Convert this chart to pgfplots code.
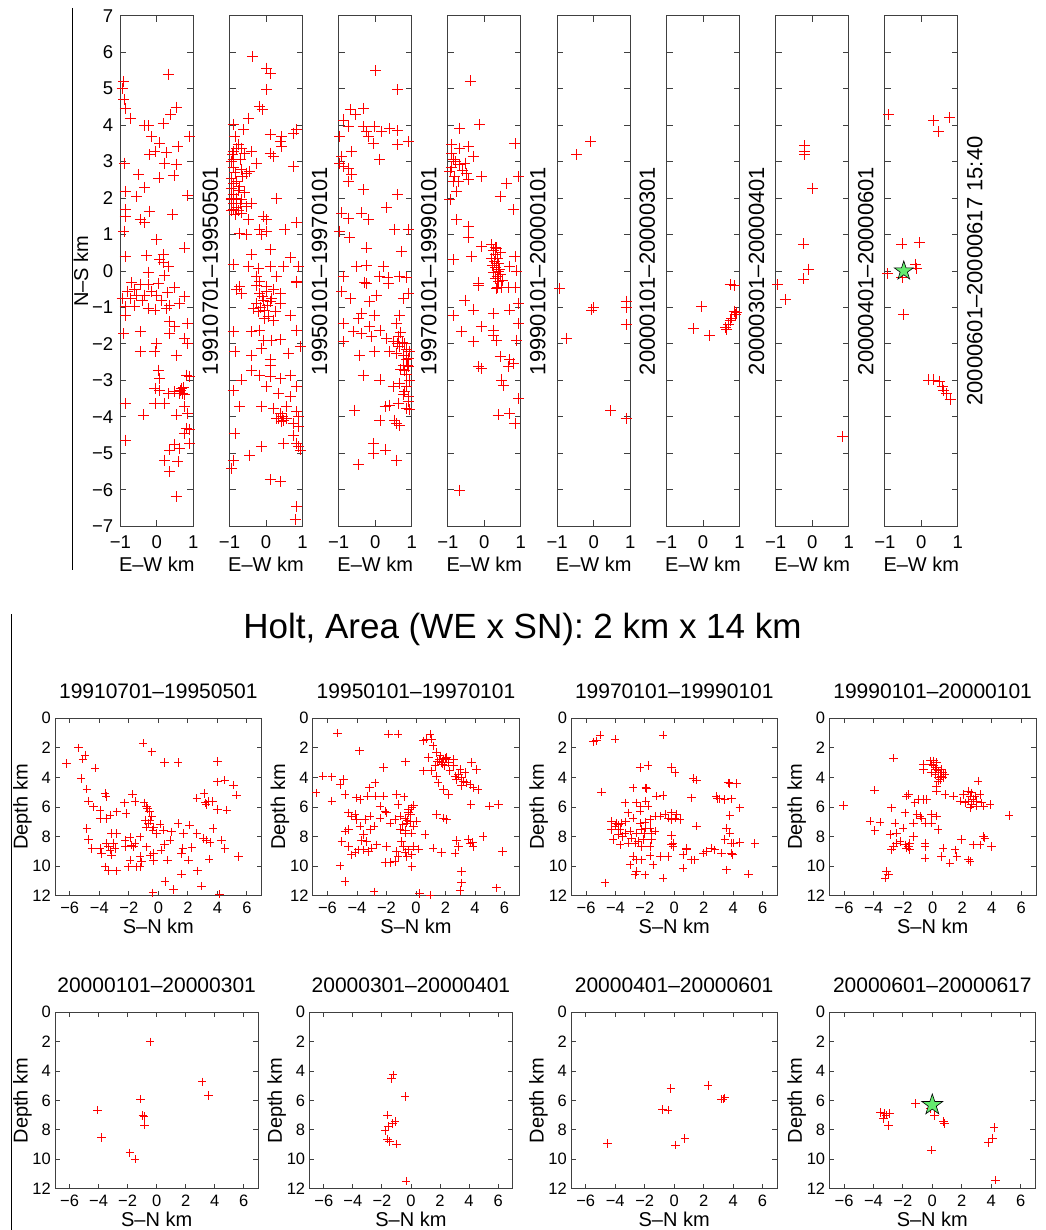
\documentclass[border=0pt]{standalone}
\usepackage{fontspec}
\setmainfont{Liberation Sans}
\usepackage{pgfplots}
\pgfplotsset{compat=1.18}
\definecolor{stargreen}{RGB}{100,235,110}
\definecolor{axgray}{RGB}{64,64,64}
\pgfdeclareplotmark{fstar}{%
  \pgfpathmoveto{\pgfpointpolar{90}{\pgfplotmarksize}}%
  \pgfpathlineto{\pgfpointpolar{126}{0.382\pgfplotmarksize}}%
  \pgfpathlineto{\pgfpointpolar{162}{\pgfplotmarksize}}%
  \pgfpathlineto{\pgfpointpolar{198}{0.382\pgfplotmarksize}}%
  \pgfpathlineto{\pgfpointpolar{234}{\pgfplotmarksize}}%
  \pgfpathlineto{\pgfpointpolar{270}{0.382\pgfplotmarksize}}%
  \pgfpathlineto{\pgfpointpolar{306}{\pgfplotmarksize}}%
  \pgfpathlineto{\pgfpointpolar{342}{0.382\pgfplotmarksize}}%
  \pgfpathlineto{\pgfpointpolar{18}{\pgfplotmarksize}}%
  \pgfpathlineto{\pgfpointpolar{54}{0.382\pgfplotmarksize}}%
  \pgfpathclose
  \pgfusepathqfillstroke}
\pgfplotsset{
 base/.style={scale only axis, anchor=south west,
   axis line style={draw=axgray, line width=0.9pt},
   major tick style={draw=axgray, line width=0.9pt},
   tick label style={inner sep=0pt, text=black}},
 topax/.style={base, width=73pt, height=510.5pt, xmin=-1, xmax=1, ymin=-7, ymax=7,
   xtick={-1,0,1}, xticklabels={−1,0,1}, ytick={-7,-6,...,7}, yticklabels={},
   major tick length=6pt,
   tick label style={font=\fontsize{18.5}{20}\selectfont},
   xticklabel style={yshift=-9pt}, yticklabel style={xshift=-7pt}},
 botax/.style={base, xmin=-7, xmax=7, ymin=0, ymax=12, y dir=reverse,
   xtick={-6,-4,...,6}, xticklabels={−6,−4,−2,0,2,4,6},
   ytick={0,2,...,12}, yticklabels={0,2,4,6,8,10,12},
   major tick length=5pt,
   tick label style={font=\fontsize{16.5}{18}\selectfont},
   xticklabel style={yshift=-6pt}, yticklabel style={xshift=-4pt}},
 eq/.style={only marks, mark=+, mark size=5.5pt, color=red, line width=0.9pt},
 eqs/.style={only marks, mark=+, mark size=4.2pt, color=red, line width=0.9pt},
 starm/.style={only marks, mark=fstar, mark options={fill=stargreen, draw=black, line width=0.6pt}},
}
\begin{document}
\color{red}%
\begin{tikzpicture}[x=1pt,y=1pt,color=red]
\useasboundingbox (0,0) rectangle (1045,-1230);
\draw[line width=1pt, draw=black] (72,-8) -- (72,-570);
\draw[line width=1pt, draw=black] (11.7,-614) -- (11.7,-1230);

% ---------------- top row: E-W vs N-S ----------------
\begin{axis}[topax, at={(120.3pt,-526.2pt)}, yticklabels={−7,−6,−5,−4,−3,−2,−1,0,1,2,3,4,5,6,7}]
\addplot[eq] coordinates {(-0.91,5.19) (-0.95,5.0) (0.31,5.40) (-0.90,4.69) (-0.87,4.46) (-0.73,4.19) (0.53,4.49) (0.38,4.28) (-0.33,3.98) (-0.24,3.98) (0.17,4.05) (0.90,3.69) (-0.14,3.69) (0.08,3.51) (-0.05,3.28) (0.26,3.25) (-0.19,3.19) (0.22,2.96) (0.58,3.41) (0.53,2.93) (-0.89,2.96) (-0.49,2.64) (0.06,2.55) (0.47,2.62) (-0.87,2.18) (-0.33,2.30) (-0.55,2.05) (0.85,2.06) (-0.87,1.68) (-0.87,1.50) (-0.21,1.64) (-0.46,1.41) (-0.33,1.32) (0.44,1.54) (-0.90,1.09) (-0.01,0.86) (0.76,0.63) (-0.87,0.40) (-0.28,0.42) (0.17,0.45) (0.08,0.31) (0.17,0.22) (0.31,0.13) (-0.24,-0.03) (0.22,-0.13)
(-0.69,-0.32) (-0.46,-0.36) (-0.24,-0.36) (0.04,-0.34) (0.49,-0.45) (-0.55,-0.66) (-0.33,-0.66) (-0.01,-0.66) (-0.73,-0.75) (-0.87,-0.98) (-0.62,-0.96) (-0.24,-1.03) (-0.05,-1.07) (0.26,-1.03) (0.35,-0.94) (0.62,-0.89) (0.76,-0.71) (-0.87,-1.21) (0.35,-1.39) (0.49,-1.53) (0.85,-1.44) (-0.91,-1.71) (-0.46,-1.67) (0.35,-1.71) (0.76,-1.85) (-0.01,-1.99) (0.85,-1.99) (-0.46,-2.22) (-0.05,-2.22) (0.53,-2.31) (0.04,-2.72) (0.08,-2.95) (0.81,-2.86) (0.90,-2.90) (-0.05,-3.22) (0.08,-3.27) (0.31,-3.36) (0.49,-3.31) (0.67,-3.22) (0.62,-3.36) (0.76,-3.40) (-0.87,-3.63) (-0.05,-3.63) (0.22,-3.63) (0.76,-3.72) (-0.37,-3.95) (0.53,-3.95) (0.85,-3.91) (-0.87,-4.64) (0.81,-4.32) (0.76,-4.46) (0.90,-4.36) (0.90,-4.73) (0.49,-4.77) (0.35,-4.91) (0.62,-4.86) (0.22,-5.19) (0.58,-5.23) (0.35,-5.51) (0.53,-6.19)
(-0.80,-0.55) (-0.60,-0.50) (-0.40,-0.80) (-0.15,-0.55) (0.12,-0.80) (0.30,-0.60) (-0.95,-0.75) (0.65,-3.28) (0.70,-3.35) (0.72,-3.20)};
\end{axis}

\begin{axis}[topax, at={(229.5pt,-526.2pt)}]
\addplot[eq] coordinates {(-0.37,5.88) (0.02,5.56) (0.11,5.42) (0.02,4.97) (-0.17,4.51) (-0.10,4.42) (-0.49,4.19) (-0.90,4.01) (-0.62,3.87) (0.11,3.73) (0.43,3.69) (0.39,3.55) (0.43,3.41) (0.75,3.78) (0.84,3.87) (-0.85,3.69) (-0.76,3.46) (-0.67,3.37) (-0.90,3.28) (-0.58,3.23) (-0.39,3.28) (0.11,3.23) (0.20,3.14) (-0.90,3.05) (-0.67,2.78) (-0.53,2.68) (-0.44,2.73) (-0.26,2.96) (-0.72,2.32) (-0.58,2.14) (-0.67,1.95) (-0.53,1.77) (-0.39,1.86) (-0.67,1.59) (-0.49,1.41) (0.29,1.98) (0.75,2.87) (-0.07,1.50) (0.02,1.41) (-0.17,1.13) (0.02,1.09) (0.52,1.13) (0.84,1.33) (-0.72,1.04) (-0.53,1.00) (-0.12,1.00) (0.11,0.59) (-0.39,0.45) (0.66,0.36) (-0.90,0.18) (-0.49,0.13) (-0.21,0.08) (0.11,0.13) (0.48,0.13) (0.89,0.13) (-0.26,-0.14) (-0.17,-0.28) (0.29,-0.14) (0.84,-0.28) (-0.72,-0.42)
(-0.95,3.0) (-0.90,2.85) (-0.85,2.7) (-0.95,2.55) (-0.88,2.4) (-0.80,2.45) (-0.95,2.25) (-0.90,2.1) (-0.82,2.0) (-0.95,1.95) (-0.88,1.85) (-0.80,1.75) (-0.95,1.65) (-0.85,1.55) (-0.75,1.65) (-0.70,1.85) (-0.75,2.2) (-0.65,2.6) (-0.92,3.2) (-0.80,3.35) (-0.70,3.05) (-0.95,2.0) (-0.90,1.7)
(-0.81,-0.52) (-0.67,-0.62) (-0.26,-0.39) (-0.17,-0.62) (0.02,-0.43) (0.20,-0.52) (0.39,-0.62) (-0.07,-0.80) (0.11,-0.84) (0.39,-0.89) (-0.35,-1.03) (-0.21,-1.12) (-0.03,-1.07) (0.06,-1.26) (0.20,-1.35) (0.66,-1.21) (0.84,-0.32) (-0.90,-1.67) (-0.39,-1.67) (-0.17,-1.62) (-0.07,-1.90) (0.16,-1.90) (0.39,-1.88) (0.84,-1.62) (-0.85,-2.22) (-0.39,-2.31) (-0.12,-2.12) (0.11,-2.44) (0.11,-2.58) (0.61,-2.26) (0.94,-2.08) (-0.39,-2.72) (-0.17,-2.86) (-0.67,-2.99) (0.11,-2.90) (0.39,-2.94) (0.66,-2.86) (0.02,-3.18) (0.84,-3.18) (-0.90,-3.27) (0.34,-3.36) (0.66,-3.45) (-0.72,-3.72) (-0.12,-3.71) (0.20,-3.77) (0.57,-3.72) (0.39,-3.91) (0.84,-3.86) (0.29,-4.04) (0.48,-4.09) (0.35,-4.05) (0.45,-4.00) (0.55,-4.05) (0.42,-4.12) (0.75,-4.18) (0.89,-4.00) (0.89,-4.27) (-0.85,-4.46) (0.75,-4.50) (0.48,-4.73) (0.84,-4.73) (0.89,-4.82) (0.94,-4.91) (-0.12,-4.82) (-0.44,-5.05) (-0.90,-5.19) (-0.94,-5.42) (0.11,-5.73) (0.39,-5.78) (0.84,-6.46) (0.80,-6.82)
(-0.10,-0.70) (0.05,-0.95) (-0.25,-0.90) (0.15,-0.75) (0.25,-1.10) (-0.05,-1.30) (-0.15,-1.00) (0.00,-0.55)};
\end{axis}

\begin{axis}[topax, at={(338.7pt,-526.2pt)}]
\addplot[eq] coordinates {(0.02,5.49) (0.61,4.97) (-0.31,4.46) (-0.69,4.42) (-0.55,4.28) (-0.87,4.14) (-0.74,3.96) (-0.33,3.96) (-0.23,3.82) (-0.19,3.69) (-0.01,3.96) (0.17,3.82) (0.40,3.91) (0.62,3.84) (0.90,3.55) (0.62,3.46) (-0.06,3.50) (-0.97,3.69) (-0.92,3.14) (-0.65,3.28) (-0.97,2.96) (-0.88,2.87) (-0.74,2.82) (-0.65,2.64) (-0.74,2.46) (0.12,3.07) (-0.33,2.23) (0.62,2.09) (0.31,1.73) (-0.92,1.59) (-0.74,1.45) (-0.38,1.59) (-0.19,1.41) (-0.97,1.09) (-0.70,0.91) (0.54,1.15) (0.90,1.13) (-0.24,0.63) (0.72,0.54) (-0.51,0.13) (-0.24,0.15) (0.22,0.13) (-0.87,-0.14) (-0.29,-0.31) (0.12,-0.14) (0.35,-0.19) (0.67,-0.14) (0.85,-0.19)
(-0.92,-0.57) (-0.69,-0.75) (-0.24,-0.34) (0.04,-0.66) (0.36,-0.34) (0.77,-0.75) (0.90,-0.62) (-0.15,-0.84) (-0.37,-1.16) (-0.46,-1.30) (-0.01,-1.21) (0.67,-1.21) (-0.88,-1.44) (-0.60,-1.67) (-0.37,-1.71) (-0.15,-1.53) (0.13,-1.62) (-0.10,-1.80) (0.31,-1.85) (0.49,-1.94) (0.63,-1.80) (0.58,-1.44) (-0.88,-1.94) (-0.42,-2.31) (-0.01,-2.22) (0.40,-2.22) (0.58,-2.26) (0.67,-2.08) (0.77,-2.31) (0.86,-2.44) (0.77,-2.58) (0.90,-2.63) (0.81,-2.72) (-0.33,-2.86) (0.13,-2.99) (0.49,-3.18) (0.67,-3.08) (0.86,-3.18) (0.77,-3.40) (0.90,-3.59) (0.27,-3.72) (0.40,-3.68) (0.63,-3.63) (0.86,-3.77) (-0.56,-3.82) (0.13,-4.09) (0.54,-4.09) (0.67,-4.23) (0.58,-4.18) (-0.05,-4.73) (-0.05,-5.00) (0.29,-4.91) (0.58,-5.19) (-0.47,-5.32)
(0.80,-2.0) (0.85,-2.15) (0.75,-1.95) (0.90,-2.40) (0.70,-2.70) (0.85,-2.85) (0.95,-3.0) (0.80,-3.3) (0.92,-3.45) (0.95,-3.8) (0.70,-1.7) (0.60,-2.0) (0.88,-2.6) (0.95,-2.2)};
\end{axis}

\begin{axis}[topax, at={(447.8pt,-526.2pt)}]
\addplot[eq] coordinates {(-0.39,5.21) (-0.12,4.01) (-0.67,3.92) (0.84,3.49) (-0.89,3.46) (-0.67,3.37) (-0.44,3.41) (-0.30,3.14) (-0.89,3.23) (-0.85,3.05) (-0.67,2.91) (-0.53,2.96) (-0.94,2.73) (-0.81,2.59) (-0.71,2.46) (-0.49,2.68) (-0.44,2.50) (-0.07,2.59) (-0.76,2.18) (-0.94,1.95) (0.61,2.41) (0.43,2.05) (0.93,2.59) (0.79,1.68) (-0.76,1.41) (-0.44,1.22) (-0.44,0.91) (-0.07,0.68) (0.20,0.72) (0.34,0.63) (-0.35,0.40) (-0.85,0.31) (0.84,0.40) (0.70,0.13) (0.88,0.00) (-0.16,-0.33)
(0.25,0.55) (0.30,0.45) (0.35,0.35) (0.28,0.25) (0.40,0.20) (0.32,0.10) (0.38,0.00) (0.25,-0.05) (0.45,-0.10) (0.30,-0.20) (0.40,-0.30) (0.35,-0.45) (0.20,0.35) (0.45,0.50) (0.30,0.65) (0.42,0.05) (0.22,0.15) (0.36,-0.15) (0.50,-0.25) (-0.90,2.85) (-0.80,3.00) (-0.60,2.75) (-0.85,2.45)
(-0.16,-0.39) (0.34,-0.48) (0.48,-0.45) (0.66,-0.45) (0.84,-0.45) (-0.53,-0.80) (-0.30,-1.07) (0.25,-1.16) (0.70,-1.07) (0.93,-0.89) (-0.85,-1.21) (-0.62,-1.67) (-0.07,-1.53) (0.25,-1.62) (0.25,-1.76) (0.34,-1.90) (-0.30,-1.94) (0.93,-1.44) (0.88,-1.90) (0.43,-2.35) (0.70,-2.44) (0.66,-2.63) (0.79,-2.53) (-0.16,-2.63) (-0.07,-2.67) (0.48,-2.99) (0.52,-3.13) (0.93,-3.50) (0.38,-3.95) (0.70,-3.91) (0.84,-4.18) (-0.67,-6.01)};
\end{axis}

\begin{axis}[topax, at={(557.2pt,-526.2pt)}]
\addplot[eq] coordinates {(-0.47,3.19) (-0.08,3.54) (-0.93,-0.48) (-0.74,-1.85) (-0.06,-1.07) (-0.01,-1.01) (0.89,-0.83) (0.89,-0.99) (0.89,-1.47) (0.47,-3.83) (0.89,-4.04)};
\end{axis}

\begin{axis}[topax, at={(666.5pt,-526.2pt)}]
\addplot[eq] coordinates {(-0.04,-0.97) (-0.27,-1.58) (0.19,-1.78) (0.74,-0.38) (0.87,-0.40) (0.92,-1.14) (0.85,-1.10) (0.79,-1.29) (0.74,-1.35) (0.70,-1.47) (0.62,-1.55) (0.65,-1.60) (0.88,-1.20)};
\end{axis}

\begin{axis}[topax, at={(775.7pt,-526.2pt)}]
\addplot[eq] coordinates {(-0.21,3.44) (-0.21,3.29) (-0.21,3.19) (0.02,2.27) (-0.23,0.74) (-0.09,0.05) (-0.23,-0.22) (-0.74,-0.79) (-0.95,-0.38) (0.82,-4.55)};
\end{axis}

\begin{axis}[topax, at={(884.8pt,-526.2pt)}]
\addplot[eq] coordinates {(-0.89,4.28) (0.34,4.12) (0.47,3.82) (0.78,4.20) (-0.53,0.74) (-0.05,0.77) (-0.16,0.18) (-0.12,0.08) (-0.92,-0.07) (-0.53,-0.17) (-0.48,-1.19) (0.20,-2.99) (0.34,-2.99) (0.50,-3.02) (0.57,-3.17) (0.61,-3.27) (0.70,-3.37) (0.79,-3.53)};
\addplot[starm, mark size=10pt] coordinates {(-0.48,0.0)};
\end{axis}

\begin{scope}[every node/.style={inner sep=0pt, text=black}]
\node[rotate=90, anchor=base, font=\fontsize{20}{22}\selectfont] at (88,-271) {N–S km};
\foreach \xx/\lab in {120.3/19910701–19950501, 229.5/19950101–19970101, 338.7/19970101–19990101, 447.8/19990101–20000101, 557.2/20000101–20000301, 666.5/20000301–20000401, 775.7/20000401–20000601, 884.8/20000601–20000617 15:40}{
  \node[rotate=90, anchor=north, font=\fontsize{22}{24}\selectfont] at (\xx+82,-271) {\lab};
  \node[anchor=base, font=\fontsize{20}{22}\selectfont] at (\xx+36.5,-571) {E–W km};
}
\node[anchor=base, font=\fontsize{35}{40}\selectfont] at (522.5,-638) {Holt, Area (WE x SN): 2 km x 14 km};
\end{scope}

% ---------------- bottom rows: S-N vs depth ----------------
\begin{axis}[botax, at={(55pt,-895.7pt)}, width=206.7pt, height=177.4pt]
\addplot[eqs] coordinates {(-5.42,1.99) (-4.97,2.48) (-5.12,2.77) (-6.21,3.05) (-4.29,3.38) (-5.24,4.06) (-4.85,4.78) (-4.74,5.59) (-4.40,5.98) (-3.95,6.20) (-3.61,5.08) (-3.54,5.30) (-3.95,6.77) (-3.50,6.77) (-3.27,6.54) (-2.82,6.32) (-2.30,5.71) (-2.19,6.43) (-1.76,5.14) (-1.58,5.64) (-0.97,5.71) (-0.79,5.98) (-0.74,6.10) (-0.61,6.30) (-0.45,6.65) (-0.56,6.90) (-0.90,6.90) (-0.68,7.12) (-0.34,7.35) (-0.79,7.35) (-0.38,7.56) (-0.11,7.78) (0.11,7.15) (0.34,7.56) (0.90,7.67) (0.79,8.23) (1.35,7.11) (1.69,7.78) (2.10,7.22) (1.58,9.14) (1.65,8.80) (2.26,8.73) (2.60,7.78) (3.05,8.12) (3.27,8.23) (3.50,8.41) (2.60,5.41) (3.09,5.08) (3.16,5.71) (3.39,5.64) (3.68,5.64) (3.23,5.82) (4.00,6.16) (4.63,6.20) (3.72,7.44) (4.29,8.23) (4.51,8.80) (4.00,4.29) (4.51,4.17) (5.08,4.51) (5.30,5.19) (4.00,2.93) (5.42,9.36) (3.45,9.52) (2.03,9.59) (2.64,10.31) (1.58,10.53) (2.93,11.35) (1.02,11.57) (0.45,11.05) (-0.38,11.80) (-1.02,1.69) (-0.45,2.26) (0.41,2.98) (1.35,2.98) (0.63,9.59) (0.18,8.91) (0.41,8.53) (-0.34,9.14) (-0.56,9.25) (-0.34,9.63) (-0.79,8.69) (-1.24,9.36) (-1.13,9.70) (-1.47,10.04) (-1.24,10.04) (-1.92,9.59) (-2.03,10.04) (-1.58,8.46) (-1.81,8.57) (-1.69,8.69) (-2.26,8.23) (-2.26,8.69) (-1.92,8.05) (-1.24,8.01) (-2.82,7.78) (-3.16,7.78) (-3.05,8.46) (-3.16,9.25) (-2.93,8.80) (-3.39,8.69) (-3.27,8.91) (-3.50,8.46) (-3.95,8.80) (-3.84,9.14) (-4.51,8.80) (-4.74,8.19) (-4.85,7.44) (-3.61,10.04) (-3.39,10.31) (-2.82,10.31) (4.13,11.9)};
\end{axis}

\begin{axis}[botax, at={(312.7pt,-895.7pt)}, width=206.6pt, height=177.4pt]
\addplot[eqs] coordinates {(0.95,1.07) (1.06,1.41) (1.17,1.86) (1.40,2.31) (1.63,2.54) (1.85,2.77) (2.08,2.65) (1.74,2.99) (1.96,3.22) (2.19,2.99) (2.53,3.22) (2.30,3.56) (2.64,3.90) (2.87,3.79) (3.09,4.02) (3.21,4.24) (3.43,4.36) (3.66,4.47) (3.88,4.70) (4.22,4.81) (3.77,2.99) (4.11,3.45) (1.29,3.22) (1.40,3.90) (1.51,4.36) (1.85,4.81) (2.19,5.15) (1.85,6.74) (2.08,6.85) (1.40,6.51) (0.50,3.56) (1.06,3.56) (0.84,2.65) (0.50,1.52) (0.72,1.41) (2.53,2.77) (2.98,3.45) (3.32,3.67) (2.75,4.13) (3.09,4.54) (1.60,2.80) (1.80,3.10) (2.00,2.70) (1.45,2.90)
(-5.33,1.0) (-1.87,1.07) (-1.20,1.07) (-3.84,2.2) (-2.21,3.33) (-0.70,2.95) (-6.32,3.90) (-5.71,3.95) (-4.92,4.13) (-5.15,4.47) (-6.77,5.04) (-5.71,5.60) (-4.81,5.15) (-4.02,5.38) (-3.79,5.49) (-3.16,4.70) (-2.78,4.36) (-3.30,5.26) (-2.73,5.26) (-2.21,5.26) (-2.44,5.94) (-2.10,6.28) (-1.99,6.40) (-1.31,5.15) (-0.81,5.31) (-1.20,5.83) (-0.29,6.06) (-0.52,6.17) (-0.18,5.90) (-0.36,6.51) (-0.74,6.74) (-1.08,6.62) (-1.42,6.85) (-1.76,7.08) (-0.63,7.08) (0.05,6.96) (-0.18,7.30) (-1.08,7.53) (-0.74,7.76) (-0.29,7.76) (-0.97,8.33) (-0.86,8.67) (-0.52,8.89) (-0.29,9.23) (-0.63,9.35) (-0.74,9.07) (-1.31,9.01) (-1.99,8.67) (-2.10,9.75) (-1.76,9.75) (-1.42,9.69) (-1.20,9.35) (-0.29,10.03) (0.16,8.85) (-0.18,8.67) (0.61,7.87) (1.17,8.78) (1.74,9.07) (2.64,9.12) (2.87,8.67) (2.75,8.26) (3.54,8.21) (3.66,8.44) (3.84,8.39) (3.88,8.67) (4.56,7.99) (3.72,5.83) (4.97,5.94) (5.58,5.83) (5.87,9.01) (3.09,10.37) (3.09,11.12) (2.98,11.66) (5.46,11.46) (0.95,11.96) (0.23,11.84) (-2.84,11.73) (-4.81,11.05) (-5.15,9.98) (-5.03,8.33) (-4.58,8.67) (-4.36,9.23) (-4.58,7.53) (-4.81,7.64) (-4.58,6.40) (-4.36,6.62) (-4.13,6.51) (-4.02,6.85) (-3.79,7.30) (-3.57,7.87) (-3.34,8.33) (-3.11,7.53) (-3.23,9.01) (-3.00,8.78) (-3.57,8.89) (-3.91,8.89) (-4.13,9.07) (-2.66,8.55) (-2.44,6.74) (-3.11,6.62) (-3.45,6.85) (-2.84,7.30) (-3.68,8.26) (-0.50,6.40) (-0.60,6.90) (-0.40,7.00) (-0.90,7.20) (-0.70,7.60)};
\end{axis}

\begin{axis}[botax, at={(571.3pt,-895.7pt)}, width=206pt, height=177.4pt]
\addplot[eqs] coordinates {(-5.50,1.59) (-5.28,1.52) (-5.05,1.13) (-4.03,1.41) (-0.75,1.13) (-2.33,3.33) (-1.77,3.18) (-0.18,3.33) (0.05,3.68) (1.29,4.06) (1.52,4.17) (3.67,4.36) (3.78,4.40) (4.24,4.40) (-4.94,4.99) (-2.79,4.70) (-1.93,4.70) (-1.88,4.76) (-1.20,5.26) (-0.75,5.22) (1.18,5.38) (2.83,5.26) (2.92,5.44) (3.10,5.44) (3.44,5.49) (3.90,5.44) (4.46,6.06) (3.78,6.58) (-3.35,5.72) (-2.56,5.72) (-2.33,5.94) (-2.33,6.28) (-1.93,5.60) (-1.77,5.94) (-3.13,6.40) (-2.79,6.74) (-4.26,6.96) (-3.92,7.08) (-3.58,7.08) (-2.33,7.08) (-1.99,7.03) (-1.65,6.85) (-1.31,6.62) (-0.97,6.62) (-0.63,6.51) (-0.41,6.74) (-0.18,6.85) (0.05,6.74) (0.39,6.85) (0.16,6.51) (-0.18,6.40) (-3.69,7.53) (-3.35,7.76) (-3.01,7.64) (-2.56,7.76) (-2.22,7.53) (-1.99,7.42) (-1.65,7.42) (-1.54,7.76) (-1.31,7.64) (-1.54,8.21) (-4.15,8.21) (-3.80,7.87) (-3.69,8.55) (-3.13,8.44) (-2.67,8.44) (-2.45,8.33) (-2.22,8.67) (-2.11,8.21) (-1.65,8.67) (-2.79,9.35) (-2.56,9.57) (-2.22,9.57) (-3.01,9.91) (-2.56,10.37) (-2.67,10.59) (-1.99,10.59) (-1.43,9.91) (-0.75,10.82) (-4.71,11.12) (-0.18,7.94) (-0.07,8.44) (-0.18,8.55) (-0.07,8.67) (-0.41,9.35) (0.61,9.23) (0.84,8.78) (0.84,8.89) (1.18,9.57) (1.40,9.57) (0.61,10.14) (1.52,7.30) (1.97,9.12) (2.20,9.01) (2.54,8.78) (2.76,8.89) (3.22,9.12) (3.44,8.21) (3.56,7.42) (3.78,7.76) (3.90,8.44) (4.01,8.44) (4.46,8.39) (5.48,8.48) (3.90,9.12) (3.96,9.23) (3.56,10.25) (5.03,10.55) (-0.97,9.35) (-1.65,9.30) (-4.03,7.30) (-4.26,7.53) (-3.50,8.00) (-3.80,7.20) (-2.90,8.10) (-2.00,7.80) (-3.30,7.00)};
\end{axis}

\begin{axis}[botax, at={(829.3pt,-895.7pt)}, width=206.7pt, height=177.4pt]
\addplot[eqs] coordinates {(-0.18,2.88) (-0.07,3.11) (0.05,3.22) (0.16,3.45) (0.27,3.33) (0.38,3.56) (0.50,3.68) (0.61,3.90) (0.72,4.02) (0.16,3.79) (0.38,4.02) (0.50,4.13) (-0.07,3.68) (0.27,2.99) (0.61,3.45) (0.72,3.68) (0.84,3.79) (0.05,2.88) (-0.63,3.11) (-0.63,3.45) (0.27,4.58) (0.27,4.92) (0.38,4.24)
(2.08,5.15) (2.42,4.92) (2.64,5.04) (2.53,5.26) (2.75,5.49) (2.87,5.26) (2.98,5.60) (2.64,5.83) (2.42,5.60) (2.19,5.72) (3.21,5.15) (3.32,5.72) (2.98,5.94) (3.43,5.94) (3.88,5.83) (3.09,4.24) (1.85,5.60) (2.53,6.06)
(-6.05,5.90) (-3.95,4.86) (-2.66,2.70) (-4.24,6.96) (-3.91,7.58) (-3.57,7.03) (-2.78,6.06) (-2.55,7.08) (-2.44,7.76) (-2.89,7.87) (-2.66,8.67) (-2.78,8.89) (-2.44,8.44) (-2.21,8.33) (-1.99,7.42) (-1.87,6.40) (-1.76,5.26) (-1.65,5.15) (-1.87,8.55) (-1.76,8.78) (-1.65,8.67) (-1.54,8.44) (-1.54,8.89) (-1.31,7.99) (-1.31,7.08) (-1.20,5.72) (-0.97,5.49) (-1.08,6.51) (-0.86,6.62) (-0.63,5.49) (-0.41,5.49) (-0.75,6.74) (-0.52,7.08) (-0.07,6.51) (-0.07,7.08) (0.27,6.62) (0.38,7.53) (-0.52,8.44) (-0.52,8.67) (-0.52,9.46) (0.84,5.15) (1.40,5.26) (0.72,8.78) (0.61,9.35) (1.17,9.80) (1.51,8.89) (1.63,9.35) (1.96,8.21) (2.42,9.57) (2.53,9.69) (2.75,8.55) (3.21,8.55) (3.43,7.99) (3.54,8.10) (3.99,8.67) (5.19,6.58) (-3.12,10.37) (-3.00,10.59) (-3.23,10.82)};
\end{axis}

\begin{axis}[botax, at={(55pt,-1188.7pt)}, width=203.3pt, height=176.4pt]
\addplot[eqs] coordinates {(-0.46,2.00) (-4.06,6.65) (-3.79,8.51) (-1.10,5.90) (-0.96,7.03) (-0.87,7.10) (-0.85,7.67) (-1.84,9.55) (-1.49,9.98) (3.14,4.72) (3.56,5.67)};
\end{axis}

\begin{axis}[botax, at={(309.3pt,-1188.7pt)}, width=203.3pt, height=176.4pt]
\addplot[eqs] coordinates {(-1.22,4.26) (-1.33,4.49) (-0.41,5.74) (-1.61,6.99) (-1.10,7.44) (-1.26,7.55) (-1.56,7.78) (-1.79,8.05) (-1.61,8.62) (-1.49,8.80) (-0.99,8.96) (-0.34,11.48)};
\end{axis}

\begin{axis}[botax, at={(571pt,-1188.7pt)}, width=206.3pt, height=176.4pt]
\addplot[eqs] coordinates {(-4.52,8.92) (-0.23,5.17) (-0.79,6.60) (-0.41,6.65) (2.31,4.99) (3.21,5.90) (3.32,5.90) (3.44,5.81) (0.09,9.03) (0.72,8.58)};
\end{axis}

\begin{axis}[botax, at={(829.3pt,-1188.7pt)}, width=206pt, height=176.4pt]
\addplot[eqs] coordinates {(-1.13,6.19) (-3.51,6.81) (-3.33,7.21) (-3.15,6.99) (-2.92,6.87) (-3.22,6.87) (-2.99,7.71) (0.14,7.03) (0.75,7.44) (0.82,7.55) (-0.05,9.37) (4.21,7.83) (4.08,8.58) (3.81,8.85) (4.30,11.41) (-0.16,6.53)};
\addplot[starm, mark size=11pt] coordinates {(0,6.3)};
\end{axis}

\begin{scope}[every node/.style={inner sep=0pt, text=black}]
\foreach \xx/\ww/\lab in {55/206.7/19910701–19950501, 312.7/206.6/19950101–19970101, 571.3/206/19970101–19990101, 829.3/206.7/19990101–20000101}{
  \node[anchor=base, font=\fontsize{21}{23}\selectfont] at (\xx+\ww/2,-698.8) {\lab};
  \node[anchor=base, font=\fontsize{20}{22}\selectfont] at (\xx+\ww/2,-933.2) {S–N km};
  \node[rotate=90, anchor=base, font=\fontsize{20}{22}\selectfont] at (\xx-27.5,-807) {Depth km};
}
\foreach \xx/\ww/\lab in {55/203.3/20000101–20000301, 309.3/203.3/20000301–20000401, 571/206.3/20000401–20000601, 829.3/206/20000601–20000617}{
  \node[anchor=base, font=\fontsize{21}{23}\selectfont] at (\xx+\ww/2,-992.3) {\lab};
  \node[anchor=base, font=\fontsize{20}{22}\selectfont] at (\xx+\ww/2,-1226.2) {S–N km};
  \node[rotate=90, anchor=base, font=\fontsize{20}{22}\selectfont] at (\xx-27.5,-1100.5) {Depth km};
}
\end{scope}
\end{tikzpicture}
\end{document}
